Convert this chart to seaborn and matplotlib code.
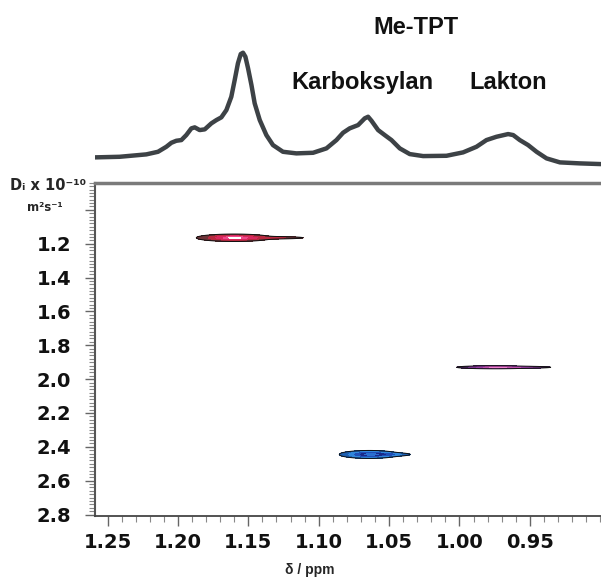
import numpy as np
import matplotlib
matplotlib.use('Agg')
import matplotlib.pyplot as plt
from matplotlib.ticker import MultipleLocator, FixedLocator
import seaborn as sns

# 1D trace on top (chemical shift in ppm, intensity in arbitrary units)
spec_ppm = [1.2592, 1.2415, 1.2225, 1.2142, 1.2083, 1.2047, 1.2012, 1.1976, 1.1941, 1.1905,
            1.1881, 1.1846, 1.1810, 1.1763, 1.1727, 1.1692, 1.1656, 1.1621, 1.1597, 1.1574,
            1.1554, 1.1538, 1.1521, 1.1502, 1.1478, 1.1455, 1.1419, 1.1372, 1.1325, 1.1254,
            1.1159, 1.1040, 1.0945, 1.0874, 1.0827, 1.0780, 1.0720, 1.0673, 1.0649, 1.0625,
            1.0578, 1.0531, 1.0483, 1.0424, 1.0353, 1.0258, 1.0092, 0.9974, 0.9879, 0.9808,
            0.9737, 0.9654, 0.9618, 0.9571, 0.9512, 0.9452, 0.9381, 0.9286, 0.9144, 0.8995]
spec_int = [7.7, 8.3, 10.7, 13.3, 18.3, 22.3, 24.3, 25.0, 30.0, 36.7,
            37.7, 35.0, 35.7, 41.7, 45.0, 47.7, 55.0, 68.3, 85.0, 101.7,
            111.0, 112.3, 108.3, 96.7, 80.0, 61.7, 45.0, 30.0, 20.0, 13.3,
            11.7, 12.3, 16.7, 25.0, 32.3, 36.7, 40.0, 46.7, 48.3, 44.3,
            35.0, 30.0, 25.0, 16.7, 11.0, 9.0, 9.3, 12.7, 18.3, 25.0,
            28.3, 31.0, 30.0, 25.0, 20.0, 13.3, 6.7, 2.7, 1.7, 1.0]

# DOSY cross peaks: main lobe + tapering shoulder
spot_names = ['Me-TPT', 'Karboksylan', 'Lakton']
spot_ppm = [1.160, 1.064, 0.975]
spot_D = [1.165, 2.445, 1.930]
spot_w_ppm = [0.012, 0.0095, 0.012]
spot_w_D = [0.0098, 0.0105, 0.0040]
tail_ppm = [1.130, 1.048, 0.953]
tail_w_ppm = [0.011, 0.007, 0.009]
tail_w_D = [0.0038, 0.005, 0.0026]
tail_amp = [0.35, 0.40, 0.55]
spot_colors = [
    ['#6e3338', '#b8293f', '#d8285e', '#ee4a8a', '#ffffff'],
    ['#1d5fb0', '#2f86dc', '#1f4fb8', '#1a2a8a', '#2b6fd0'],
    ['#4a2560', '#7d3590', '#9a3ea6', '#c050b0', '#f080d0'],
]
levels = [0.08, 0.3, 0.55, 0.8, 0.95, 3.0]

y_ticks = [1.0, 1.2, 1.4, 1.6, 1.8, 2.0, 2.2, 2.4, 2.6, 2.8]
y_ticklabels = ['', '1.2', '1.4', '1.6', '1.8', '2.0', '2.2', '2.4', '2.6', '2.8']
x_ticks = [1.25, 1.20, 1.15, 1.10, 1.05, 1.00, 0.95]
x_ticklabels = ['1.25', '1.20', '1.15', '1.10', '1.05', '1.00', '0.95']

sns.set_theme(style='ticks')
plt.rcParams['font.family'] = ['DejaVu Sans']

fig = plt.figure(figsize=(6.01, 5.82), dpi=100)
ax = fig.add_axes([0.158, 0.113, 0.842, 0.573])
ax_top = fig.add_axes([0.158, 0.694, 0.842, 0.306], sharex=ax)

# 2D map
gx = np.linspace(0.899, 1.259, 900)
gy = np.linspace(0.84, 2.82, 2000)
X, Y = np.meshgrid(gx, gy)
for i in range(len(spot_names)):
    Z = np.exp(-0.5 * (((X - spot_ppm[i]) / spot_w_ppm[i]) ** 2 + ((Y - spot_D[i]) / spot_w_D[i]) ** 2))
    Z += tail_amp[i] * np.exp(-0.5 * (((X - tail_ppm[i]) / tail_w_ppm[i]) ** 2 + ((Y - spot_D[i]) / tail_w_D[i]) ** 2))
    ax.contourf(X, Y, Z, levels=levels, colors=spot_colors[i])
    ax.contour(X, Y, Z, levels=[levels[0]], colors='#111111', linewidths=0.7)

ax.set_xlim(1.259, 0.8994)
ax.set_ylim(2.81, 0.84)
ax.xaxis.set_major_locator(FixedLocator(x_ticks))
ax.set_xticklabels(x_ticklabels)
ax.xaxis.set_minor_locator(MultipleLocator(0.01))
ax.yaxis.set_major_locator(FixedLocator(y_ticks))
ax.set_yticklabels(y_ticklabels)
ax.yaxis.set_minor_locator(MultipleLocator(0.02))
ax.tick_params(axis='both', which='major', direction='out', length=7, width=1,
               color='#666666', labelsize=14, labelcolor='#111111')
ax.tick_params(axis='both', which='minor', direction='out', length=4, width=0.8, color='#888888')
ax.tick_params(axis='x', which='major', pad=5)
ax.tick_params(axis='y', which='major', pad=10)
for lab in ax.get_xticklabels() + ax.get_yticklabels():
    lab.set_fontweight('bold')
ax.spines['right'].set_visible(False)
ax.spines['top'].set_color('#7a7a7a')
ax.spines['top'].set_linewidth(2.5)
ax.spines['left'].set_color('#555555')
ax.spines['left'].set_linewidth(1.5)
ax.spines['bottom'].set_color('#444444')
ax.spines['bottom'].set_linewidth(1.3)
ax.set_xlabel('')
ax.set_ylabel('')

# 1D spectrum
sns.lineplot(x=spec_ppm, y=spec_int, ax=ax_top, color='#3d4246', linewidth=3.2,
             sort=False, solid_joinstyle='round', solid_capstyle='round')
ax_top.set_ylim(-13, 165)
ax_top.set_xlim(1.259, 0.8994)
ax_top.axis('off')
lab_font = dict(family='Liberation Sans', fontweight='bold', fontsize=17, color='#111111',
                ha='center', va='center')
ax_top.text(1.031, 138, 'Me-TPT', **lab_font)
ax_top.text(1.069, 83, 'Karboksylan', **lab_font)
ax_top.text(0.965, 83, 'Lakton', **lab_font)

fig.text(0.017, 0.682, 'Dᵢ x 10⁻¹⁰', fontsize=10.5, fontweight='bold', ha='left', va='center')
fig.text(0.075, 0.644, 'm²s⁻¹', fontsize=8.5, fontweight='bold', ha='center', va='center')
fig.text(0.516, 0.021, 'δ / ppm', family='Liberation Sans', fontsize=10, fontweight='bold',
         ha='center', va='center')

fig.savefig('out.png', dpi=100)
